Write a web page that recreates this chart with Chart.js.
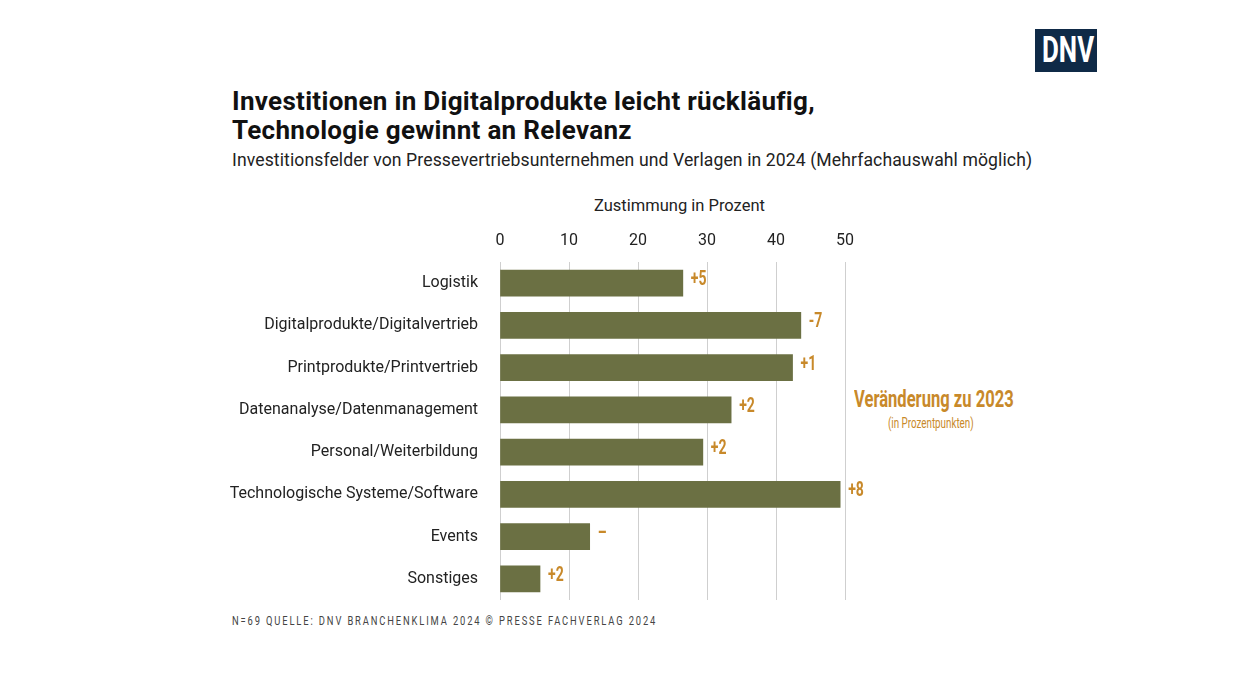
<!DOCTYPE html>
<html><head><meta charset="utf-8">
<script src="https://cdn.jsdelivr.net/npm/chart.js@4"></script>
<style>
body{margin:0;width:1260px;height:680px;background:#fff;font-family:"Open Sans",Roboto,sans-serif;position:relative;overflow:hidden}
.t{position:absolute;color:#111;white-space:nowrap}
.n{transform-origin:0 0;font-family:Roboto,sans-serif}
#c{position:absolute;left:0;top:0}
</style></head><body>
<div class="t" style="left:232px;top:87px;font-size:26px;font-weight:bold;line-height:29px;font-family:Roboto,sans-serif;letter-spacing:0.3px">Investitionen in Digitalprodukte leicht rückläufig,<br>Technologie gewinnt an Relevanz</div>
<div class="t" style="left:232px;top:150px;font-size:17.6px;font-family:Roboto,sans-serif;color:#222;letter-spacing:0.1px">Investitionsfelder von Pressevertriebsunternehmen und Verlagen in 2024 (Mehrfachauswahl möglich)</div>
<div class="t" style="left:594px;top:196px;font-size:16.5px;font-family:Roboto,sans-serif;color:#222">Zustimmung in Prozent</div>
<div class="t" style="left:1035px;top:29px;width:62px;height:43px;background:#0f2a47;overflow:hidden"><div class="n" style="position:absolute;left:7px;top:0;color:#fff;font-weight:bold;font-size:36px;line-height:43px;transform:scaleX(0.72)">DNV</div></div>
<div class="t n" style="left:854px;top:386px;font-size:23px;font-weight:bold;color:#c8892a;transform:scaleX(0.72)">Veränderung zu 2023</div>
<div class="t n" style="left:888px;top:415px;font-size:14px;color:#c8892a;transform:scaleX(0.7)">(in Prozentpunkten)</div>
<div class="t n" style="left:232px;top:613px;font-size:13px;letter-spacing:2.6px;color:#444;transform:scaleX(0.72)">N=69 QUELLE: DNV BRANCHENKLIMA 2024 © PRESSE FACHVERLAG 2024</div>
<canvas id="c" width="1260" height="680"></canvas>
<script>
const categories=["Logistik","Digitalprodukte/Digitalvertrieb","Printprodukte/Printvertrieb","Datenanalyse/Datenmanagement","Personal/Weiterbildung","Technologische Systeme/Software","Events","Sonstiges"];
const values=[26.5,43.6,42.4,33.5,29.4,49.3,13,5.8];
const changes=["+5","-7","+1","+2","+2","+8","–","+2"];
const xTicks=[0,10,20,30,40,50];
const labelPlugin={id:"lbl",afterDatasetsDraw(ch){const ctx=ch.ctx;const m=ch.getDatasetMeta(0);ctx.save();ctx.fillStyle="#c8892a";ctx.font="bold 20px Roboto,sans-serif";ctx.textBaseline="middle";m.data.forEach((b,i)=>{ctx.save();ctx.translate(b.x+8,b.y-3);ctx.scale(0.7,1);ctx.fillText(changes[i],0,0);ctx.restore();});ctx.restore();}};
new Chart(document.getElementById("c"),{type:"bar",data:{labels:categories,datasets:[{data:values,backgroundColor:"#6b7043",barThickness:26}]},
options:{indexAxis:"y",responsive:false,animation:false,layout:{padding:{left:0,right:415,top:0,bottom:80}},
plugins:{legend:{display:false},tooltip:{enabled:false}},
scales:{x:{position:"top",min:0,max:50,afterFit(s){s.height=262;},afterBuildTicks(s){s.ticks=xTicks.map(v=>({value:v}));},
ticks:{color:"#222",font:{size:16,family:"Roboto,sans-serif"},padding:11},grid:{color:"#cfcfcf",drawTicks:false},border:{display:false}},
y:{afterFit(s){s.width=500;},ticks:{color:"#222",font:{size:16,family:"Roboto,sans-serif"},padding:14},grid:{display:false},border:{display:false}}}},
plugins:[labelPlugin]});
</script></body></html>
